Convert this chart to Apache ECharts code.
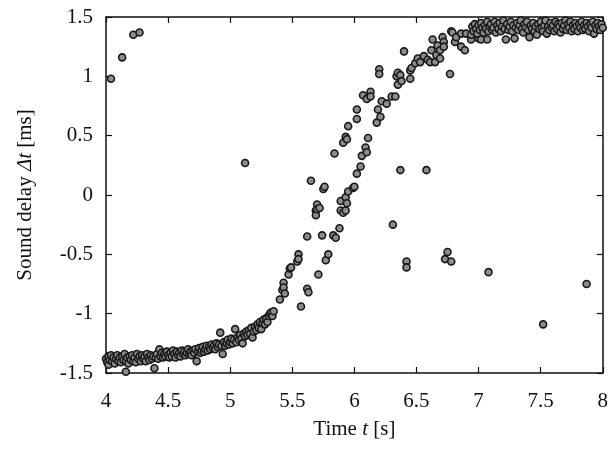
<!DOCTYPE html>
<html>
<head>
<meta charset="utf-8">
<script src="https://cdn.jsdelivr.net/npm/echarts@6/dist/echarts.min.js"></script>
<style>
  html, body { margin: 0; padding: 0; background: #fff; }
  #chart { width: 611px; height: 451px; }
</style>
</head>
<body>
<div id="chart"></div>
<script>
// [time t (s), sound delay (ms)]
const lowerBand = [
  [4.00,-1.38],[4.01,-1.41],[4.02,-1.36],[4.02,-1.43],[4.03,-1.39],[4.04,-1.35],[4.05,-1.40],[4.06,-1.37],
  [4.07,-1.42],[4.08,-1.38],[4.09,-1.35],[4.10,-1.40],[4.11,-1.37],[4.12,-1.41],[4.13,-1.36],[4.14,-1.39],
  [4.15,-1.34],[4.16,-1.49],[4.16,-1.40],[4.17,-1.37],[4.18,-1.42],[4.19,-1.36],[4.20,-1.39],[4.21,-1.35],
  [4.22,-1.40],[4.23,-1.37],[4.24,-1.41],[4.25,-1.34],[4.26,-1.38],[4.27,-1.36],[4.28,-1.40],[4.29,-1.35],
  [4.30,-1.38],[4.31,-1.36],[4.32,-1.40],[4.33,-1.34],[4.34,-1.37],[4.35,-1.39],[4.36,-1.35],[4.37,-1.38],
  [4.38,-1.36],[4.39,-1.46],[4.40,-1.37],[4.41,-1.34],[4.42,-1.38],[4.43,-1.30],[4.44,-1.36],[4.45,-1.33],
  [4.46,-1.37],[4.47,-1.34],[4.48,-1.36],[4.49,-1.32],[4.50,-1.35],[4.51,-1.37],[4.52,-1.33],[4.53,-1.36],
  [4.54,-1.31],[4.55,-1.34],[4.56,-1.37],[4.57,-1.32],[4.58,-1.35],[4.59,-1.33],[4.60,-1.36],[4.61,-1.31],
  [4.62,-1.34],[4.63,-1.32],[4.64,-1.35],[4.65,-1.33],[4.66,-1.30],[4.67,-1.34],[4.68,-1.32],[4.69,-1.35],
  [4.70,-1.31],[4.71,-1.33],[4.72,-1.30],[4.73,-1.40],[4.74,-1.32],[4.75,-1.29],[4.76,-1.33],[4.77,-1.31],
  [4.78,-1.28],[4.79,-1.32],[4.80,-1.30],[4.81,-1.27],[4.82,-1.31],[4.83,-1.28],[4.84,-1.30],[4.85,-1.26],
  [4.86,-1.29],[4.87,-1.27],[4.88,-1.30],[4.89,-1.25],[4.90,-1.28],[4.91,-1.26],[4.92,-1.16],[4.93,-1.27],
  [4.94,-1.34],[4.95,-1.24],[4.96,-1.27],[4.97,-1.25],[4.98,-1.22],[4.99,-1.26],[5.00,-1.24],[5.01,-1.21],
  [5.02,-1.25],[5.03,-1.22],[5.04,-1.13],[5.05,-1.24],[5.06,-1.20],[5.07,-1.22],[5.08,-1.18],[5.09,-1.21],
  [5.10,-1.25],[5.11,-1.17],[5.12,-1.19],[5.13,-1.15],[5.14,-1.18],[5.15,-1.14],[5.16,-1.17],[5.17,-1.12],
  [5.18,-1.20],[5.19,-1.15],[5.20,-1.11],[5.21,-1.14],[5.22,-1.09],[5.23,-1.12],[5.24,-1.07],[5.25,-1.13],
  [5.26,-1.08],[5.27,-1.05],[5.28,-1.09],[5.29,-1.04],[5.30,-1.07],[5.31,-1.02],[5.32,-1.00],[5.33,-0.99],
  [5.34,-1.02],[5.35,-0.98]
];

const earlyRise = [
  [5.40,-0.88],[5.42,-0.80],[5.43,-0.74],[5.43,-0.78],[5.44,-0.83],[5.47,-0.67],[5.48,-0.62],[5.49,-0.61],
  [5.54,-0.56],[5.55,-0.50],[5.55,-0.54],[5.62,-0.35],[5.65,0.12],[5.69,-0.13],[5.69,-0.17],[5.70,-0.08],
  [5.70,-0.12],[5.72,-0.11],[5.75,0.05],[5.76,0.07],[5.84,0.35],[5.91,0.44],[5.93,0.49],[5.94,0.47],
  [5.95,0.58],[6.02,0.64],[6.02,0.72],[6.07,0.84],[6.10,0.81],[6.13,0.87],[6.13,0.83],[6.20,1.06],
  [6.20,1.02],[6.40,1.21]
];

const lateRise = [
  [5.57,-0.94],[5.62,-0.79],[5.63,-0.82],[5.71,-0.67],[5.74,-0.34],[5.77,-0.55],[5.79,-0.50],[5.83,-0.34],
  [5.85,-0.36],[5.88,-0.28],[5.89,-0.05],[5.89,-0.13],[5.91,-0.15],[5.93,-0.02],[5.93,-0.13],[5.94,-0.07],
  [5.95,0.03],[5.99,0.06],[6.00,0.07],[6.02,0.18],[6.05,0.24],[6.06,0.33],[6.09,0.40],[6.10,0.36],
  [6.11,0.48],[6.18,0.61],[6.19,0.72],[6.21,0.66],[6.22,0.79],[6.26,0.77],[6.30,0.83],[6.33,0.83],
  [6.34,1.00],[6.35,0.93],[6.35,1.03],[6.37,1.01],[6.38,0.96],[6.45,0.98],[6.45,1.05],[6.46,1.07],
  [6.49,1.11],[6.51,1.15],[6.53,1.12],[6.56,1.17],[6.59,1.14],[6.61,1.12],[6.62,1.22],[6.63,1.31],
  [6.65,1.12],[6.66,1.18],[6.67,1.26],[6.69,1.22],[6.69,1.15],[6.71,1.33],[6.72,1.29],[6.72,1.25],
  [6.77,1.02],[6.78,1.38],[6.79,1.37],[6.81,1.29],[6.82,1.33],[6.86,1.25],[6.86,1.36],[6.89,1.22],
  [6.90,1.36],[6.94,1.31],[6.94,1.35],[6.98,1.39],[7.00,1.32],[7.02,1.31],[7.07,1.31]
];

const upperBand = [
  [6.95,1.42],[6.96,1.38],[6.97,1.44],[6.98,1.40],[6.99,1.36],[7.00,1.43],[7.01,1.39],[7.02,1.45],
  [7.03,1.41],[7.04,1.37],[7.05,1.43],[7.06,1.40],[7.07,1.46],[7.08,1.38],[7.09,1.42],[7.10,1.44],
  [7.11,1.39],[7.12,1.41],[7.13,1.46],[7.14,1.37],[7.15,1.43],[7.16,1.40],[7.17,1.45],[7.18,1.38],
  [7.19,1.42],[7.20,1.47],[7.21,1.40],[7.22,1.31],[7.23,1.44],[7.24,1.39],[7.25,1.42],[7.26,1.46],
  [7.27,1.38],[7.28,1.43],[7.29,1.32],[7.30,1.41],[7.31,1.45],[7.32,1.39],[7.33,1.43],[7.34,1.47],
  [7.35,1.40],[7.36,1.37],[7.37,1.44],[7.38,1.41],[7.39,1.46],[7.40,1.39],[7.41,1.33],[7.42,1.43],
  [7.43,1.40],[7.44,1.45],[7.45,1.38],[7.46,1.42],[7.47,1.35],[7.48,1.44],[7.49,1.40],[7.50,1.46],
  [7.51,1.41],[7.52,1.38],[7.53,1.43],[7.54,1.47],[7.55,1.36],[7.56,1.42],[7.57,1.39],[7.58,1.45],
  [7.59,1.41],[7.60,1.43],[7.61,1.38],[7.62,1.46],[7.63,1.40],[7.64,1.44],[7.65,1.42],[7.66,1.37],
  [7.67,1.45],[7.68,1.40],[7.69,1.43],[7.70,1.47],[7.71,1.39],[7.72,1.44],[7.73,1.41],[7.74,1.46],
  [7.75,1.38],[7.76,1.43],[7.77,1.40],[7.78,1.45],[7.79,1.42],[7.80,1.38],[7.81,1.44],[7.82,1.41],
  [7.83,1.46],[7.84,1.39],[7.85,1.43],[7.86,1.40],[7.87,1.45],[7.88,1.42],[7.89,1.38],[7.90,1.44],
  [7.91,1.41],[7.92,1.46],[7.93,1.36],[7.94,1.43],[7.95,1.40],[7.96,1.45],[7.97,1.42],[7.98,1.39],
  [7.99,1.44],[8.00,1.41]
];

const outliers = [
  [4.04,0.98],[4.13,1.16],[4.22,1.35],[4.27,1.37],[5.12,0.27],[6.31,-0.25],[6.37,0.21],[6.42,-0.56],
  [6.42,-0.61],[6.58,0.21],[6.73,-0.54],[6.75,-0.48],[6.78,-0.56],[7.08,-0.65],[7.52,-1.09],[7.87,-0.75]
];

const xTicks = { min: 4, max: 8, interval: 0.5 };
const yTicks = { min: -1.5, max: 1.5, interval: 0.5 };

const font = 'Liberation Serif';
const axisLine = { show: true, onZero: false, lineStyle: { color: '#111', width: 1.5 } };
const tick = { show: true, inside: true, length: 6, lineStyle: { color: '#111', width: 1.2 } };
const nameRich = {
  n: { fontFamily: font, fontSize: 21, color: '#111' },
  i: { fontFamily: font, fontSize: 21, fontStyle: 'italic', color: '#111' }
};

const chart = echarts.init(document.getElementById('chart'), null, { renderer: 'canvas' });

chart.setOption({
  animation: false,
  backgroundColor: '#fff',
  grid: { left: 106, right: 5, top: 17, bottom: 78 },
  xAxis: [
    {
      type: 'value', ...xTicks, position: 'bottom',
      axisLine, axisTick: tick, splitLine: { show: false },
      axisLabel: { color: '#111', fontFamily: font, fontSize: 21, margin: 18 },
      name: '{n|Time }{i|t}{n| [s]}',
      nameLocation: 'middle', nameGap: 46,
      nameTextStyle: { rich: nameRich }
    },
    {
      type: 'value', ...xTicks, position: 'top',
      axisLine, axisTick: tick, axisLabel: { show: false }, splitLine: { show: false }
    }
  ],
  yAxis: [
    {
      type: 'value', ...yTicks, position: 'left',
      axisLine, axisTick: tick, splitLine: { show: false },
      axisLabel: { color: '#111', fontFamily: font, fontSize: 21, margin: 13 },
      name: '{n|Sound delay }{i|Δt}{n| [ms]}',
      nameLocation: 'middle', nameGap: 70, nameRotate: 90,
      nameTextStyle: { rich: nameRich }
    },
    {
      type: 'value', ...yTicks, position: 'right',
      axisLine, axisTick: tick, axisLabel: { show: false }, splitLine: { show: false }
    }
  ],
  series: [
    {
      type: 'scatter',
      symbol: 'circle',
      symbolSize: 7,
      data: [].concat(lowerBand, earlyRise, lateRise, upperBand, outliers),
      itemStyle: { color: '#8c8c8c', borderColor: '#181818', borderWidth: 1.6, opacity: 1 }
    }
  ]
});
</script>
</body>
</html>
